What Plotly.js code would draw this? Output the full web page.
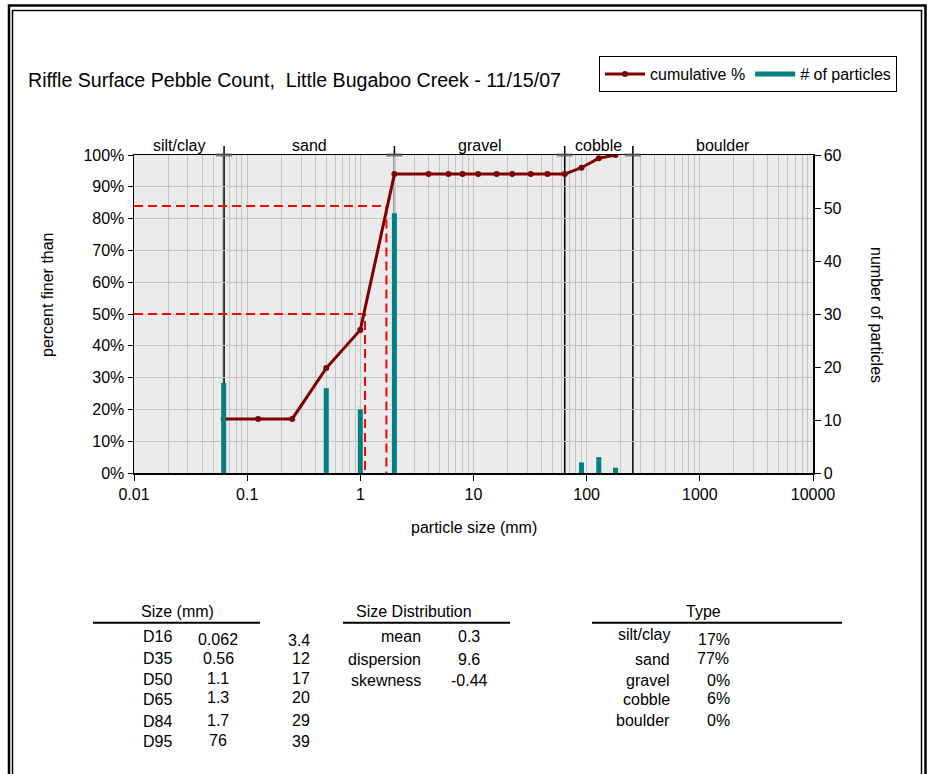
<!DOCTYPE html>
<html><head><meta charset="utf-8">
<script src="https://cdn.plot.ly/plotly-3.0.1.min.js"></script>
<style>html,body{margin:0;padding:0;background:#fff;} #chart{width:927px;height:774px;}</style>
</head><body><div id="chart"></div>
<script>
// ---------- data ----------
const sieveSizes    = [0.062, 0.125, 0.25, 0.5, 1, 2, 4, 6, 8, 11, 16, 22, 32, 45, 64, 90, 128, 180];
const cumulativePct = [17, 17, 17, 33, 45, 94, 94, 94, 94, 94, 94, 94, 94, 94, 94, 96, 99, 100];
const countSizes     = [0.062, 0.5, 1, 2, 90, 128, 180];
const particleCounts = [17, 16, 12, 49, 2, 3, 1];
const classNames  = ['silt/clay', 'sand', 'gravel', 'cobble', 'boulder'];
const classBounds = [0.01, 0.0625, 2, 64, 256, 10000];
const xTickVals = [0.01, 0.1, 1, 10, 100, 1000, 10000];
const xTickText = ['0.01', '0.1', '1', '10', '100', '1000', '10000'];
const dLabels = ['D16', 'D35', 'D50', 'D65', 'D84', 'D95'];
const dSizes  = ['0.062', '0.56', '1.1', '1.3', '1.7', '76'];
const dOther  = ['3.4', '12', '17', '20', '29', '39'];
const distLabels = ['mean', 'dispersion', 'skewness'];
const distValues = ['0.3', '9.6', '-0.44'];
const typeLabels = ['silt/clay', 'sand', 'gravel', 'cobble', 'boulder'];
const typeValues = ['17%', '77%', '0%', '6%', '0%'];
const markedD = ['D50', 'D84'];

// ---------- layout geometry (pixels) ----------
const W = 927, H = 774, L = 134, R = 813, T = 155, B = 473;
const fx = x => (x - L) / (R - L);
const fy = y => (B - y) / (B - T);
const FONT = 'Liberation Sans, Arial, sans-serif';
const lg = Math.log10;
const capHalf = Math.pow(10, 8 / ((R - L) / 6)); // ~8 px half-width on the log axis

// ---------- traces ----------
const barX = [], barY = [];
countSizes.forEach((s, i) => { barX.push(s, s, null); barY.push(0, particleCounts[i], null); });

const dashX = [], dashY = [];
markedD.forEach(d => {
  const p = parseFloat(d.slice(1));
  const s = parseFloat(dSizes[dLabels.indexOf(d)]);
  dashX.push(xTickVals[0], s, s, null);
  dashY.push(p, p, 0, null);
});

const traces = [
  {x: barX, y: barY, yaxis: 'y2', type: 'scatter', mode: 'lines', name: '# of particles',
   line: {color: '#008080', width: 5}, legendrank: 2, hoverinfo: 'skip'},
  {x: dashX, y: dashY, type: 'scatter', mode: 'lines', showlegend: false,
   line: {color: '#ff0000', width: 2, dash: '9px,5px'}, hoverinfo: 'skip'},
  {x: sieveSizes, y: cumulativePct, type: 'scatter', mode: 'lines+markers', name: 'cumulative %',
   line: {color: '#800000', width: 3}, marker: {color: '#800000', size: 6}, legendrank: 1}
];

// ---------- shapes ----------
const shapes = [];
classBounds.slice(1, -1).forEach(b => {
  shapes.push({type: 'line', xref: 'x', yref: 'paper', x0: b, x1: b, y0: 0, y1: fy(146),
    line: {color: '#000', width: 1.5}, layer: 'below'});
  shapes.push({type: 'line', xref: 'x', yref: 'paper', x0: b / capHalf, x1: b * capHalf, y0: 1, y1: 1,
    line: {color: 'rgba(90,90,90,0.75)', width: 3}});
});
// table rules
[[93, 260], [343, 510], [592, 842]].forEach(([a, b]) => {
  shapes.push({type: 'line', xref: 'paper', yref: 'paper', x0: fx(a), x1: fx(b), y0: fy(622.7), y1: fy(622.7),
    line: {color: '#000', width: 2}});
});
// frame (double border)
const frame = (l, t, r, w) => shapes.push({type: 'path', xref: 'paper', yref: 'paper',
  path: `M ${fx(l)} ${fy(H + 5)} L ${fx(l)} ${fy(t)} L ${fx(r)} ${fy(t)} L ${fx(r)} ${fy(H + 5)}`,
  line: {color: '#000', width: w}});
frame(9, 5.5, 925.5, 2.5);
frame(12.5, 10.5, 921.5, 1.5);

// ---------- annotations ----------
const ann = [];
const A = (text, x, y, xanchor = 'center', extra = {}) => ann.push(Object.assign({
  text, xref: 'paper', yref: 'paper', x: fx(x), y: fy(y), xanchor, yanchor: 'middle',
  showarrow: false, font: {family: FONT, size: 16, color: '#000'}}, extra));

// class labels
classNames.forEach((n, i) => ann.push({text: n, xref: 'x', yref: 'paper',
  x: (lg(classBounds[i]) + lg(classBounds[i + 1])) / 2, y: fy(145), yanchor: 'middle',
  showarrow: false, font: {family: FONT, size: 16, color: '#000'}}));

// axis titles
A('percent finer than', 47, 295, 'center', {textangle: -90});
A('number of particles', 877, 315, 'center', {textangle: 90});
A('particle size (mm)', 474, 527);

// tables
A('Size (mm)', 177, 611);
const dLabY = [636.7, 658.5, 679.3, 699.3, 721.5, 741.7];
const dValY = [639, 658, 678, 697, 720.5, 740];
const dOthY = [640, 658, 678, 697, 720, 741.5];
dLabels.forEach((t, i) => A(t, 157, dLabY[i]));
dSizes.forEach((t, i) => A(t, 218, dValY[i]));
dOther.forEach((t, i) => A(t, 312, dOthY[i], 'right'));

A('Size Distribution', 414, 611.7);
const distY = [636.7, 659, 680];
distLabels.forEach((t, i) => A(t, 423, distY[i], 'right'));
distValues.forEach((t, i) => A(t, 469, distY[i]));

A('Type', 703, 611.7);
const typeLabY = [634.3, 659, 680, 699.3, 720.7];
const typeValX = [714, 713, 718, 718, 718];
const typeValY = [639.3, 658.3, 680, 698.3, 720.7];
typeLabels.forEach((t, i) => A(t, 672, typeLabY[i], 'right'));
typeValues.forEach((t, i) => A(t, typeValX[i], typeValY[i]));

// ---------- layout ----------
const layout = {
  width: W, height: H,
  margin: {l: L, r: W - R, t: T, b: H - B, pad: 0},
  paper_bgcolor: '#fff', plot_bgcolor: '#ebebeb',
  font: {family: FONT, size: 16, color: '#000'},
  title: {text: 'Riffle Surface Pebble Count,\u00a0 Little Bugaboo Creek - 11/15/07',
    font: {family: FONT, size: 19.6, color: '#000'},
    xref: 'container', yref: 'container', x: 28 / W, xanchor: 'left', y: 1 - 80 / H, yanchor: 'middle'},
  showlegend: true,
  legend: {orientation: 'h', x: fx(897), xanchor: 'right', y: fy(56), yanchor: 'top',
    bordercolor: '#000', borderwidth: 1, bgcolor: '#fff', font: {family: FONT, size: 16, color: '#000'},
    traceorder: 'normal', itemwidth: 40},
  xaxis: {type: 'log', range: [lg(classBounds[0]), lg(classBounds[classBounds.length - 1])],
    tickmode: 'array', tickvals: xTickVals, ticktext: xTickText,
    ticks: 'outside', ticklen: 6, tickcolor: '#000', tickwidth: 1,
    showline: true, linecolor: '#000', linewidth: 1.5, mirror: true,
    showgrid: true, gridcolor: '#c4c4c4', gridwidth: 1,
    minor: {dtick: 'D1', showgrid: true, gridcolor: '#c4c4c4', gridwidth: 1, ticks: ''},
    zeroline: false, tickfont: {size: 16}},
  yaxis: {range: [0, 100], dtick: 10, ticksuffix: '%', ticks: 'outside', ticklen: 5, tickcolor: '#000',
    showline: true, linecolor: '#000', linewidth: 1.5, showgrid: true, gridcolor: '#c4c4c4',
    zeroline: false, tickfont: {size: 16}},
  yaxis2: {overlaying: 'y', side: 'right', range: [0, 60], dtick: 10, ticks: 'outside', ticklen: 6,
    tickcolor: '#000', showline: true, linecolor: '#000', linewidth: 1.5, showgrid: false,
    zeroline: false, tickfont: {size: 16}},
  shapes, annotations: ann
};

Plotly.newPlot('chart', traces, layout, {displayModeBar: false, staticPlot: true});
</script>
</body></html>
